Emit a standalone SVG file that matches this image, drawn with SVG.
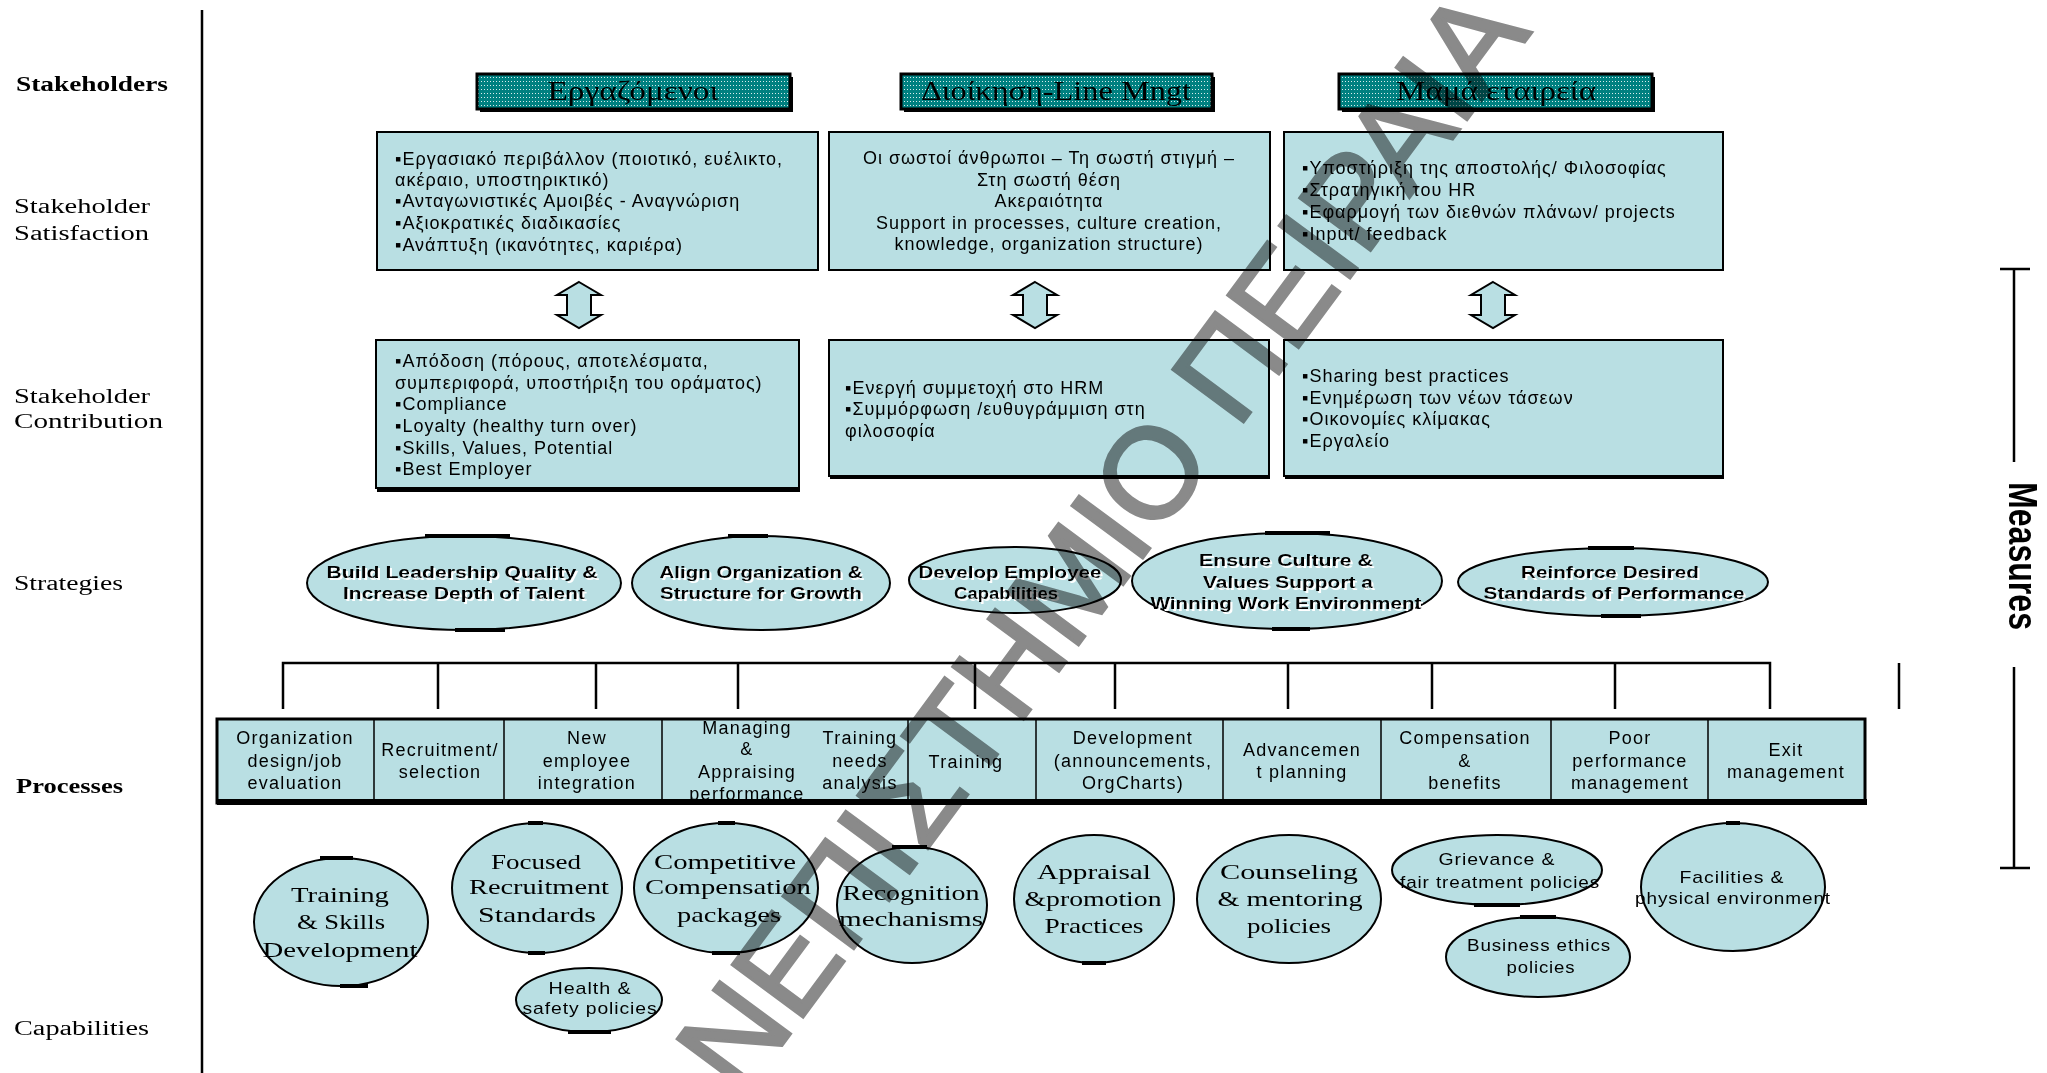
<svg xmlns="http://www.w3.org/2000/svg" width="2047" height="1073" viewBox="0 0 2047 1073">
  <defs>
    <pattern id="dots" width="3" height="4" patternUnits="userSpaceOnUse">
      <rect width="3" height="4" fill="#008080"/>
      <rect x="1" y="1" width="1" height="1" fill="#ffffff" opacity="0.85"/>
    </pattern>
    <filter id="halo" x="-10%" y="-30%" width="120%" height="160%">
      <feOffset in="SourceAlpha" dx="1.5" dy="1.5" result="off"/>
      <feFlood flood-color="#ffffff"/>
      <feComposite in2="off" operator="in" result="white"/>
      <feMerge>
        <feMergeNode in="white"/>
        <feMergeNode in="SourceGraphic"/>
      </feMerge>
    </filter>
  </defs>
  <style>
    .lbl { font-family: "Liberation Serif", serif; font-size: 20px; fill: #000; }
    .lblb { font-family: "Liberation Serif", serif; font-size: 20px; font-weight: bold; fill: #000; }
    .hdr { fill: url(#dots); stroke: #000; stroke-width: 3; }
    .hdrshadow { fill: #000; }
    .hdrtxt { font-family: "Liberation Serif", serif; font-size: 27px; fill: #000; text-anchor: middle; }
    .box { fill: #b9dfe3; stroke: #000; stroke-width: 2; }
    .btxt { font-family: "Liberation Sans", Arial, sans-serif; font-size: 18px; letter-spacing: 1px; fill: #000; }
    .mid { text-anchor: middle; }
    .ell { fill: #b9dfe3; stroke: #000; stroke-width: 2; }
    .mark { stroke: #000; stroke-width: 4; }
    .stxt { font-family: "Liberation Sans", Arial, sans-serif; font-size: 17px; font-weight: bold; fill: #000; text-anchor: middle; filter: url(#halo); }
    .ptxt { font-family: "Liberation Sans", Arial, sans-serif; font-size: 18px; letter-spacing: 1.3px; fill: #000; text-anchor: middle; }
    .ctxt { font-family: "Liberation Serif", serif; font-size: 22px; fill: #000; text-anchor: middle; }
    .csans { font-family: "Liberation Sans", Arial, sans-serif; font-size: 17px; letter-spacing: 0.8px; fill: #000; text-anchor: middle; }
    .wire { stroke: #000; stroke-width: 2.5; fill: none; }
    .arrow { fill: #b9dfe3; stroke: #000; stroke-width: 2; }
    .div { stroke: #000; stroke-width: 1.5; }
    .wm { font-family: "Liberation Sans", Arial, sans-serif; font-size: 128px; fill: #8a8a8a; stroke: #8a8a8a; stroke-width: 3; text-anchor: end; mix-blend-mode: multiply; }
  </style>

  <rect width="2047" height="1073" fill="#ffffff"/>

  <!-- row labels and the left rule -->
  <g id="row-labels">
    <line x1="202" y1="10" x2="202" y2="1073" stroke="#000" stroke-width="2.5"/>
    <text class="lblb" x="16" y="91" textLength="152" lengthAdjust="spacingAndGlyphs">Stakeholders</text>
    <text class="lbl" x="14" y="213" textLength="136" lengthAdjust="spacingAndGlyphs">Stakeholder</text>
    <text class="lbl" x="14" y="240" textLength="135" lengthAdjust="spacingAndGlyphs">Satisfaction</text>
    <text class="lbl" x="14" y="403" textLength="136" lengthAdjust="spacingAndGlyphs">Stakeholder</text>
    <text class="lbl" x="14" y="428" textLength="149" lengthAdjust="spacingAndGlyphs">Contribution</text>
    <text class="lbl" x="14" y="590" textLength="109" lengthAdjust="spacingAndGlyphs">Strategies</text>
    <text class="lblb" x="16" y="793" textLength="107" lengthAdjust="spacingAndGlyphs">Processes</text>
    <text class="lbl" x="14" y="1035" textLength="135" lengthAdjust="spacingAndGlyphs">Capabilities</text>
  </g>

  <!-- stakeholder headers -->
  <g id="hdr-employees">
    <rect class="hdrshadow" x="480" y="77" width="313" height="35"/>
    <rect class="hdr" x="477" y="74" width="313" height="35"/>
    <text class="hdrtxt" x="633" y="100" textLength="171" lengthAdjust="spacingAndGlyphs">Εργαζόμενοι</text>
  </g>
  <g id="hdr-management">
    <rect class="hdrshadow" x="904" y="77" width="311" height="35"/>
    <rect class="hdr" x="901" y="74" width="311" height="35"/>
    <text class="hdrtxt" x="1056" y="100" textLength="270" lengthAdjust="spacingAndGlyphs">Διοίκηση-Line Mngt</text>
  </g>
  <g id="hdr-parent">
    <rect class="hdrshadow" x="1342" y="77" width="313" height="35"/>
    <rect class="hdr" x="1339" y="74" width="313" height="35"/>
    <text class="hdrtxt" x="1496" y="100" textLength="200" lengthAdjust="spacingAndGlyphs">Μαμά εταιρεία</text>
  </g>

  <!-- satisfaction boxes -->
  <g id="sat-employees">
    <rect class="box" x="377" y="132" width="441" height="138"/>
    <text class="btxt" x="395" y="165">▪Εργασιακό περιβάλλον (ποιοτικό, ευέλικτο,</text>
    <text class="btxt" x="395" y="186">ακέραιο, υποστηρικτικό)</text>
    <text class="btxt" x="395" y="207">▪Ανταγωνιστικές Αμοιβές - Αναγνώριση</text>
    <text class="btxt" x="395" y="229">▪Αξιοκρατικές διαδικασίες</text>
    <text class="btxt" x="395" y="251">▪Ανάπτυξη (ικανότητες, καριέρα)</text>
  </g>
  <g id="sat-management">
    <rect class="box" x="829" y="132" width="441" height="138"/>
    <text class="btxt mid" x="1049" y="164">Οι σωστοί άνθρωποι – Τη σωστή στιγμή –</text>
    <text class="btxt mid" x="1049" y="186">Στη σωστή θέση</text>
    <text class="btxt mid" x="1049" y="207">Ακεραιότητα</text>
    <text class="btxt mid" x="1049" y="229">Support in processes, culture creation,</text>
    <text class="btxt mid" x="1049" y="250">knowledge, organization structure)</text>
  </g>
  <g id="sat-parent">
    <rect class="box" x="1284" y="132" width="439" height="138"/>
    <text class="btxt" x="1302" y="174">▪Υποστήριξη της αποστολής/ Φιλοσοφίας</text>
    <text class="btxt" x="1302" y="196">▪Στρατηγική του HR</text>
    <text class="btxt" x="1302" y="218">▪Εφαρμογή των διεθνών πλάνων/ projects</text>
    <text class="btxt" x="1302" y="240">▪Input/ feedback</text>
  </g>

  <!-- contribution boxes -->
  <g id="con-employees">
    <rect x="377" y="342" width="423" height="150" fill="#000"/>
    <rect class="box" x="376" y="340" width="423" height="148"/>
    <text class="btxt" x="395" y="367">▪Απόδοση (πόρους, αποτελέσματα,</text>
    <text class="btxt" x="395" y="389">συμπεριφορά, υποστήριξη του οράματος)</text>
    <text class="btxt" x="395" y="410">▪Compliance</text>
    <text class="btxt" x="395" y="432">▪Loyalty (healthy turn over)</text>
    <text class="btxt" x="395" y="454">▪Skills, Values, Potential</text>
    <text class="btxt" x="395" y="475">▪Best Employer</text>
  </g>
  <g id="con-management">
    <rect x="830" y="342" width="440" height="137" fill="#000"/>
    <rect class="box" x="829" y="340" width="440" height="136"/>
    <text class="btxt" x="845" y="394">▪Ενεργή συμμετοχή στο HRM</text>
    <text class="btxt" x="845" y="415">▪Συμμόρφωση /ευθυγράμμιση στη</text>
    <text class="btxt" x="845" y="437">φιλοσοφία</text>
  </g>
  <g id="con-parent">
    <rect x="1285" y="342" width="439" height="137" fill="#000"/>
    <rect class="box" x="1284" y="340" width="439" height="136"/>
    <text class="btxt" x="1302" y="382">▪Sharing best practices</text>
    <text class="btxt" x="1302" y="404">▪Ενημέρωση των νέων τάσεων</text>
    <text class="btxt" x="1302" y="425">▪Οικονομίες κλίμακας</text>
    <text class="btxt" x="1302" y="447">▪Εργαλείο</text>
  </g>

  <!-- strategies -->
  <g id="strat-leadership">
    <ellipse class="ell" cx="464" cy="583" rx="157" ry="47"/>
    <line class="mark" x1="425" y1="536" x2="510" y2="536"/>
    <line class="mark" x1="455" y1="630" x2="505" y2="630"/>
    <text class="stxt" x="462" y="578" textLength="271" lengthAdjust="spacingAndGlyphs">Build  Leadership Quality &amp;</text>
    <text class="stxt" x="464" y="599" textLength="242" lengthAdjust="spacingAndGlyphs">Increase Depth of Talent</text>
  </g>
  <g id="strat-align">
    <ellipse class="ell" cx="761" cy="583" rx="129" ry="47"/>
    <line class="mark" x1="728" y1="536" x2="768" y2="536"/>
    <text class="stxt" x="761" y="578" textLength="203" lengthAdjust="spacingAndGlyphs">Align Organization &amp;</text>
    <text class="stxt" x="761" y="599" textLength="202" lengthAdjust="spacingAndGlyphs">Structure for Growth</text>
  </g>
  <g id="strat-develop">
    <ellipse class="ell" cx="1015" cy="580" rx="106" ry="33"/>
    <text class="stxt" x="1010" y="578" textLength="183" lengthAdjust="spacingAndGlyphs">Develop Employee</text>
    <text class="stxt" x="1006" y="599" textLength="104" lengthAdjust="spacingAndGlyphs">Capabilities</text>
  </g>
  <g id="strat-culture">
    <ellipse class="ell" cx="1287" cy="581" rx="155" ry="48"/>
    <line class="mark" x1="1265" y1="533" x2="1330" y2="533"/>
    <line class="mark" x1="1272" y1="629" x2="1310" y2="629"/>
    <text class="stxt" x="1286" y="566" textLength="174" lengthAdjust="spacingAndGlyphs">Ensure  Culture &amp;</text>
    <text class="stxt" x="1288" y="588" textLength="170" lengthAdjust="spacingAndGlyphs">Values Support a</text>
    <text class="stxt" x="1286" y="609" textLength="271" lengthAdjust="spacingAndGlyphs">Winning Work Environment</text>
  </g>
  <g id="strat-standards">
    <ellipse class="ell" cx="1613" cy="582" rx="155" ry="34"/>
    <line class="mark" x1="1588" y1="548" x2="1634" y2="548"/>
    <line class="mark" x1="1601" y1="616" x2="1641" y2="616"/>
    <text class="stxt" x="1610" y="578" textLength="178" lengthAdjust="spacingAndGlyphs">Reinforce Desired</text>
    <text class="stxt" x="1614" y="599" textLength="261" lengthAdjust="spacingAndGlyphs">Standards of Performance</text>
  </g>

  <!-- connectors: double arrows and the process bracket -->
  <g id="connectors">
    <path class="arrow" d="M579,282 L601,295 L591,295 L591,315 L601,315 L579,328 L557,315 L567,315 L567,295 L557,295 Z"/>
    <path class="arrow" d="M1035,282 L1057,295 L1047,295 L1047,315 L1057,315 L1035,328 L1013,315 L1023,315 L1023,295 L1013,295 Z"/>
    <path class="arrow" d="M1493,282 L1515,295 L1505,295 L1505,315 L1515,315 L1493,328 L1471,315 L1481,315 L1481,295 L1471,295 Z"/>
    <path class="wire" d="M283,709 V663 H1770 V709"/>
    <path class="wire" d="M438,663 V709 M596,663 V709 M738,663 V709 M975,663 V709 M1115,663 V709 M1288,663 V709 M1432,663 V709 M1615,663 V709"/>
    <line class="wire" x1="1899" y1="663" x2="1899" y2="709"/>
  </g>

  <!-- process bar -->
  <g id="processes">
    <rect x="217" y="719" width="1648" height="84" fill="#b9dfe3" stroke="#000" stroke-width="3"/>
    <rect x="217" y="799" width="1650" height="6" fill="#000"/>
    <line class="div" x1="374" y1="720" x2="374" y2="800"/>
    <line class="div" x1="504" y1="720" x2="504" y2="800"/>
    <line class="div" x1="662" y1="720" x2="662" y2="800"/>
    <line class="div" x1="908" y1="720" x2="908" y2="800"/>
    <line class="div" x1="1036" y1="720" x2="1036" y2="800"/>
    <line class="div" x1="1223" y1="720" x2="1223" y2="800"/>
    <line class="div" x1="1381" y1="720" x2="1381" y2="800"/>
    <line class="div" x1="1551" y1="720" x2="1551" y2="800"/>
    <line class="div" x1="1708" y1="720" x2="1708" y2="800"/>
    <g id="proc-org">
      <text class="ptxt" x="295" y="744">Organization</text>
      <text class="ptxt" x="295" y="767">design/job</text>
      <text class="ptxt" x="295" y="789">evaluation</text>
    </g>
    <g id="proc-recruit">
      <text class="ptxt" x="440" y="756">Recruitment/</text>
      <text class="ptxt" x="440" y="778">selection</text>
    </g>
    <g id="proc-new">
      <text class="ptxt" x="587" y="744">New</text>
      <text class="ptxt" x="587" y="767">employee</text>
      <text class="ptxt" x="587" y="789">integration</text>
    </g>
    <g id="proc-appraise">
      <text class="ptxt" x="747" y="734">Managing</text>
      <text class="ptxt" x="747" y="755">&amp;</text>
      <text class="ptxt" x="747" y="778">Appraising</text>
      <text class="ptxt" x="747" y="800">performance</text>
    </g>
    <g id="proc-needs">
      <text class="ptxt" x="860" y="744">Training</text>
      <text class="ptxt" x="860" y="767">needs</text>
      <text class="ptxt" x="860" y="789">analysis</text>
    </g>
    <g id="proc-training">
      <text class="ptxt" x="966" y="768">Training</text>
    </g>
    <g id="proc-development">
      <text class="ptxt" x="1133" y="744">Development</text>
      <text class="ptxt" x="1133" y="767">(announcements,</text>
      <text class="ptxt" x="1133" y="789">OrgCharts)</text>
    </g>
    <g id="proc-advancement">
      <text class="ptxt" x="1302" y="756">Advancemen</text>
      <text class="ptxt" x="1302" y="778">t planning</text>
    </g>
    <g id="proc-compensation">
      <text class="ptxt" x="1465" y="744">Compensation</text>
      <text class="ptxt" x="1465" y="767">&amp;</text>
      <text class="ptxt" x="1465" y="789">benefits</text>
    </g>
    <g id="proc-poor">
      <text class="ptxt" x="1630" y="744">Poor</text>
      <text class="ptxt" x="1630" y="767">performance</text>
      <text class="ptxt" x="1630" y="789">management</text>
    </g>
    <g id="proc-exit">
      <text class="ptxt" x="1786" y="756">Exit</text>
      <text class="ptxt" x="1786" y="778">management</text>
    </g>
  </g>

  <!-- capabilities -->
  <g id="cap-training">
    <ellipse class="ell" cx="341" cy="922" rx="87" ry="64"/>
    <line class="mark" x1="320" y1="858" x2="353" y2="858"/>
    <line class="mark" x1="340" y1="986" x2="368" y2="986"/>
    <text class="ctxt" x="340" y="902" textLength="98" lengthAdjust="spacingAndGlyphs">Training</text>
    <text class="ctxt" x="341" y="929" textLength="88" lengthAdjust="spacingAndGlyphs">&amp; Skills</text>
    <text class="ctxt" x="340" y="957" textLength="155" lengthAdjust="spacingAndGlyphs">Development</text>
  </g>
  <g id="cap-recruitment">
    <ellipse class="ell" cx="537" cy="888" rx="85" ry="65"/>
    <line class="mark" x1="528" y1="823" x2="543" y2="823"/>
    <line class="mark" x1="528" y1="953" x2="545" y2="953"/>
    <text class="ctxt" x="536" y="869" textLength="90" lengthAdjust="spacingAndGlyphs">Focused</text>
    <text class="ctxt" x="539" y="894" textLength="140" lengthAdjust="spacingAndGlyphs">Recruitment</text>
    <text class="ctxt" x="537" y="922" textLength="118" lengthAdjust="spacingAndGlyphs">Standards</text>
  </g>
  <g id="cap-compensation">
    <ellipse class="ell" cx="726" cy="888" rx="92" ry="65"/>
    <line class="mark" x1="718" y1="823" x2="735" y2="823"/>
    <line class="mark" x1="712" y1="953" x2="740" y2="953"/>
    <text class="ctxt" x="725" y="869" textLength="142" lengthAdjust="spacingAndGlyphs">Competitive</text>
    <text class="ctxt" x="728" y="894" textLength="166" lengthAdjust="spacingAndGlyphs">Compensation</text>
    <text class="ctxt" x="729" y="922" textLength="104" lengthAdjust="spacingAndGlyphs">packages</text>
  </g>
  <g id="cap-recognition">
    <ellipse class="ell" cx="912" cy="905" rx="75" ry="58"/>
    <line class="mark" x1="892" y1="847" x2="927" y2="847"/>
    <text class="ctxt" x="911" y="900" textLength="137" lengthAdjust="spacingAndGlyphs">Recognition</text>
    <text class="ctxt" x="911" y="926" textLength="144" lengthAdjust="spacingAndGlyphs">mechanisms</text>
  </g>
  <g id="cap-health">
    <ellipse class="ell" cx="589" cy="1000" rx="73" ry="32"/>
    <line class="mark" x1="568" y1="1032" x2="611" y2="1032"/>
    <text class="csans" x="590" y="994" textLength="83" lengthAdjust="spacingAndGlyphs">Health &amp;</text>
    <text class="csans" x="590" y="1014" textLength="135" lengthAdjust="spacingAndGlyphs">safety policies</text>
  </g>
  <g id="cap-appraisal">
    <ellipse class="ell" cx="1094" cy="899" rx="80" ry="64"/>
    <line class="mark" x1="1082" y1="963" x2="1106" y2="963"/>
    <text class="ctxt" x="1094" y="879" textLength="114" lengthAdjust="spacingAndGlyphs">Appraisal</text>
    <text class="ctxt" x="1093" y="906" textLength="137" lengthAdjust="spacingAndGlyphs">&amp;promotion</text>
    <text class="ctxt" x="1094" y="933" textLength="99" lengthAdjust="spacingAndGlyphs">Practices</text>
  </g>
  <g id="cap-counseling">
    <ellipse class="ell" cx="1289" cy="899" rx="92" ry="64"/>
    <text class="ctxt" x="1289" y="879" textLength="138" lengthAdjust="spacingAndGlyphs">Counseling</text>
    <text class="ctxt" x="1290" y="906" textLength="145" lengthAdjust="spacingAndGlyphs">&amp; mentoring</text>
    <text class="ctxt" x="1289" y="933" textLength="84" lengthAdjust="spacingAndGlyphs">policies</text>
  </g>
  <g id="cap-grievance">
    <ellipse class="ell" cx="1497" cy="870" rx="105" ry="35"/>
    <line class="mark" x1="1474" y1="905" x2="1520" y2="905"/>
    <text class="csans" x="1497" y="865" textLength="117" lengthAdjust="spacingAndGlyphs">Grievance &amp;</text>
    <text class="csans" x="1500" y="888" textLength="200" lengthAdjust="spacingAndGlyphs">fair treatment policies</text>
  </g>
  <g id="cap-ethics">
    <ellipse class="ell" cx="1538" cy="957" rx="92" ry="40"/>
    <line class="mark" x1="1520" y1="917" x2="1556" y2="917"/>
    <text class="csans" x="1539" y="951" textLength="144" lengthAdjust="spacingAndGlyphs">Business ethics</text>
    <text class="csans" x="1541" y="973" textLength="69" lengthAdjust="spacingAndGlyphs">policies</text>
  </g>
  <g id="cap-facilities">
    <ellipse class="ell" cx="1733" cy="887" rx="92" ry="64"/>
    <line class="mark" x1="1726" y1="823" x2="1740" y2="823"/>
    <text class="csans" x="1732" y="883" textLength="105" lengthAdjust="spacingAndGlyphs">Facilities &amp;</text>
    <text class="csans" x="1733" y="904" textLength="196" lengthAdjust="spacingAndGlyphs">physical environment</text>
  </g>

  <!-- measures scale on the right -->
  <g id="measures">
    <path class="wire" d="M2000,269 H2030 M2014,269 V462 M2014,667 V868 M2000,868 H2030"/>
    <text transform="translate(2009,482) rotate(90)" font-family="Liberation Sans, Arial, sans-serif" font-size="40" font-weight="bold" textLength="148" lengthAdjust="spacingAndGlyphs">Measures</text>
  </g>

  <!-- university watermark -->
  <text class="wm" transform="translate(1532,32) rotate(-53.5)">ΠΑΝΕΠΙΣΤΗΜΙΟ ΠΕΙΡΑΙΑ</text>
</svg>
